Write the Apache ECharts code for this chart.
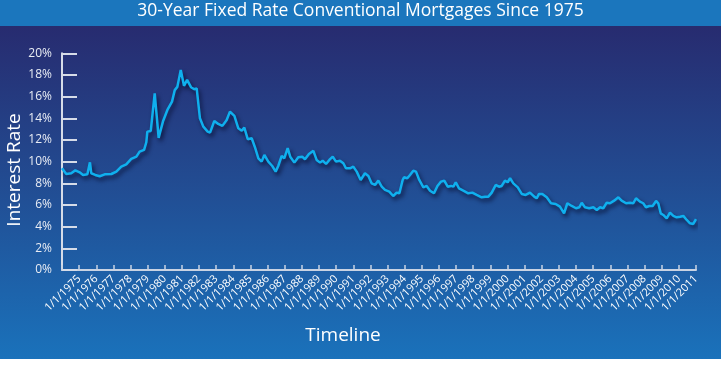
<!DOCTYPE html>
<html>
<head>
<meta charset="utf-8">
<script src="https://cdn.jsdelivr.net/npm/echarts@6/dist/echarts.min.js"></script>
<style>
html,body{margin:0;padding:0;background:#ffffff;}
#c{width:721px;height:365px;}
</style>
</head>
<body>
<div id="c"></div>
<script>
// Decimal-year positions of the plotted points
const years = [
1974.00,1974.25,1974.54,1974.78,1975.03,1975.23,1975.48,1975.63,1975.71,1975.94,
1976.20,1976.49,1976.88,1977.17,1977.46,1977.75,1978.04,1978.34,1978.53,1978.79,
1978.92,1978.98,1979.18,1979.41,1979.64,1979.89,1980.15,1980.42,1980.58,1980.73,
1980.93,1981.12,1981.30,1981.53,1981.72,1981.86,1982.05,1982.25,1982.50,1982.64,
1982.89,1983.12,1983.36,1983.61,1983.80,1984.06,1984.29,1984.49,1984.64,1984.84,
1985.07,1985.26,1985.46,1985.65,1985.81,1986.04,1986.27,1986.47,1986.62,1986.82,
1986.97,1987.17,1987.32,1987.56,1987.79,1988.02,1988.18,1988.41,1988.67,1988.86,
1989.06,1989.21,1989.41,1989.60,1989.80,1989.99,1990.22,1990.42,1990.57,1990.81,
1991.00,1991.20,1991.43,1991.68,1991.88,1992.07,1992.27,1992.46,1992.66,1992.85,
1993.10,1993.33,1993.53,1993.69,1993.88,1993.96,1994.15,1994.31,1994.50,1994.66,
1994.85,1995.09,1995.28,1995.48,1995.71,1995.91,1996.12,1996.31,1996.51,1996.70,
1996.84,1996.98,1997.17,1997.42,1997.71,1997.95,1998.20,1998.49,1998.69,1998.88,
1999.08,1999.31,1999.50,1999.66,1999.85,2000.01,2000.15,2000.34,2000.60,2000.83,
2001.06,2001.31,2001.56,2001.70,2001.84,2002.03,2002.29,2002.54,2002.81,2003.06,
2003.30,2003.49,2003.75,2004.00,2004.19,2004.33,2004.52,2004.77,2005.01,2005.21,
2005.40,2005.59,2005.79,2005.98,2006.22,2006.47,2006.66,2006.92,2007.15,2007.34,
2007.50,2007.73,2007.92,2008.08,2008.27,2008.47,2008.67,2008.80,2008.94,2009.09,
2009.29,2009.48,2009.68,2009.87,2010.07,2010.26,2010.46,2010.65,2010.84,2011.00
];
// 30-year fixed rate (%)
const rates = [
9.39,8.86,8.93,9.20,9.02,8.77,8.83,9.94,8.93,8.77,
8.65,8.83,8.86,9.08,9.54,9.75,10.25,10.46,10.92,11.08,
11.79,12.77,12.83,16.30,12.20,13.70,14.77,15.54,16.60,16.90,
18.47,17.00,17.54,16.87,16.68,16.77,14.00,13.23,12.77,12.68,
13.76,13.48,13.30,13.85,14.62,14.22,13.08,12.86,13.14,12.07,
12.16,11.33,10.31,10.00,10.62,10.00,9.60,9.08,9.60,10.53,
10.31,11.24,10.46,9.91,10.40,10.46,10.22,10.71,11.00,10.16,
9.91,10.09,9.79,10.16,10.46,10.00,10.09,9.85,9.39,9.39,
9.54,9.08,8.31,8.93,8.68,8.00,7.85,8.25,7.69,7.39,
7.23,6.83,7.14,7.08,8.31,8.56,8.47,8.77,9.17,9.08,
8.31,7.63,7.76,7.32,7.08,7.75,8.16,8.25,7.69,7.76,
7.69,8.10,7.54,7.32,7.08,7.14,6.93,6.71,6.77,6.77,
7.14,7.85,7.69,7.76,8.25,8.10,8.47,8.00,7.63,7.02,
6.93,7.14,6.77,6.62,7.02,7.02,6.71,6.16,6.09,5.85,
5.23,6.16,5.91,5.70,5.79,6.21,5.79,5.70,5.79,5.54,
5.79,5.70,6.21,6.16,6.40,6.71,6.40,6.16,6.21,6.16,
6.62,6.31,6.16,5.79,5.91,5.91,6.37,6.16,5.23,5.08,
4.77,5.29,4.99,4.86,4.92,4.99,4.62,4.31,4.25,4.70
];
// Tick label years on the time axis
const tickYears = [];
for (let y = 1975; y <= 2011; y++) tickYears.push(y);

const titleText = '30-Year Fixed Rate Conventional Mortgages Since 1975';
const yAxisName = 'Interest Rate';
const xAxisName = 'Timeline';

const chart = echarts.init(document.getElementById('c'), null, {renderer: 'canvas'});
const font = '"Open Sans", "Noto Sans", sans-serif';
const option = {
  animation: false,
  backgroundColor: '#ffffff',
  graphic: [
    {type: 'rect', z: -10, shape: {x: 0, y: 0, width: 721, height: 359},
     style: {fill: new echarts.graphic.LinearGradient(0, 0, 0, 1, [
       {offset: 0, color: '#28266a'},
       {offset: 0.5, color: '#224b91'},
       {offset: 1, color: '#1a72bb'}
     ])}},
    {type: 'rect', z: -9, shape: {x: 0, y: 0, width: 721, height: 26},
     style: {fill: '#1b76bd'}},
    {type: 'text', z: 5, left: 'center', top: 2,
     style: {text: titleText, fill: '#ffffff', font: '17.5px ' + font}},
    {type: 'text', z: 5, rotation: Math.PI / 2, x: 5, y: 170,
     style: {text: yAxisName, fill: '#ffffff', font: '19px ' + font, align: 'center', verticalAlign: 'top'}},
    {type: 'text', z: 5, x: 343, y: 336,
     style: {text: xAxisName, fill: '#ffffff', font: '19px ' + font, align: 'center', verticalAlign: 'middle'}}
  ],
  grid: {left: 62, right: 25, top: 53.3, bottom: 95, containLabel: false},
  xAxis: {
    type: 'value', min: 1974, max: 2011, interval: 1,
    axisLine: {show: true, lineStyle: {color: '#c9d3e3', width: 2}},
    axisTick: {show: true, inside: true, length: 5, lineStyle: {color: '#c9d3e3', width: 1.5}},
    axisLabel: {
      rotate: 45, margin: 7, color: '#ffffff', fontSize: 11, fontFamily: font,
      formatter: function (v) { return tickYears.indexOf(v) >= 0 ? '1/1/' + v : ''; }
    },
    splitLine: {show: false}
  },
  yAxis: {
    type: 'value', min: 0, max: 20, interval: 2,
    axisLine: {show: true, lineStyle: {color: '#d6dce8', width: 2}},
    axisTick: {show: true, inside: true, length: 15, lineStyle: {color: '#d6dce8', width: 2}},
    axisLabel: {color: '#e8ecf4', fontSize: 12, fontFamily: font, margin: 10,
      padding: [0, 0, 4, 0],
      formatter: function (v) { return v + '%'; }},
    splitLine: {show: false}
  },
  series: [{
    type: 'line',
    data: years.map(function (y, i) { return [y, rates[i]]; }),
    showSymbol: false,
    smooth: false,
    lineStyle: {color: '#0fb0ee', width: 2.5,
      shadowColor: 'rgba(5,10,40,0.75)', shadowBlur: 4, shadowOffsetX: 2, shadowOffsetY: 3}
  }]
};
chart.setOption(option);
</script>
</body>
</html>
